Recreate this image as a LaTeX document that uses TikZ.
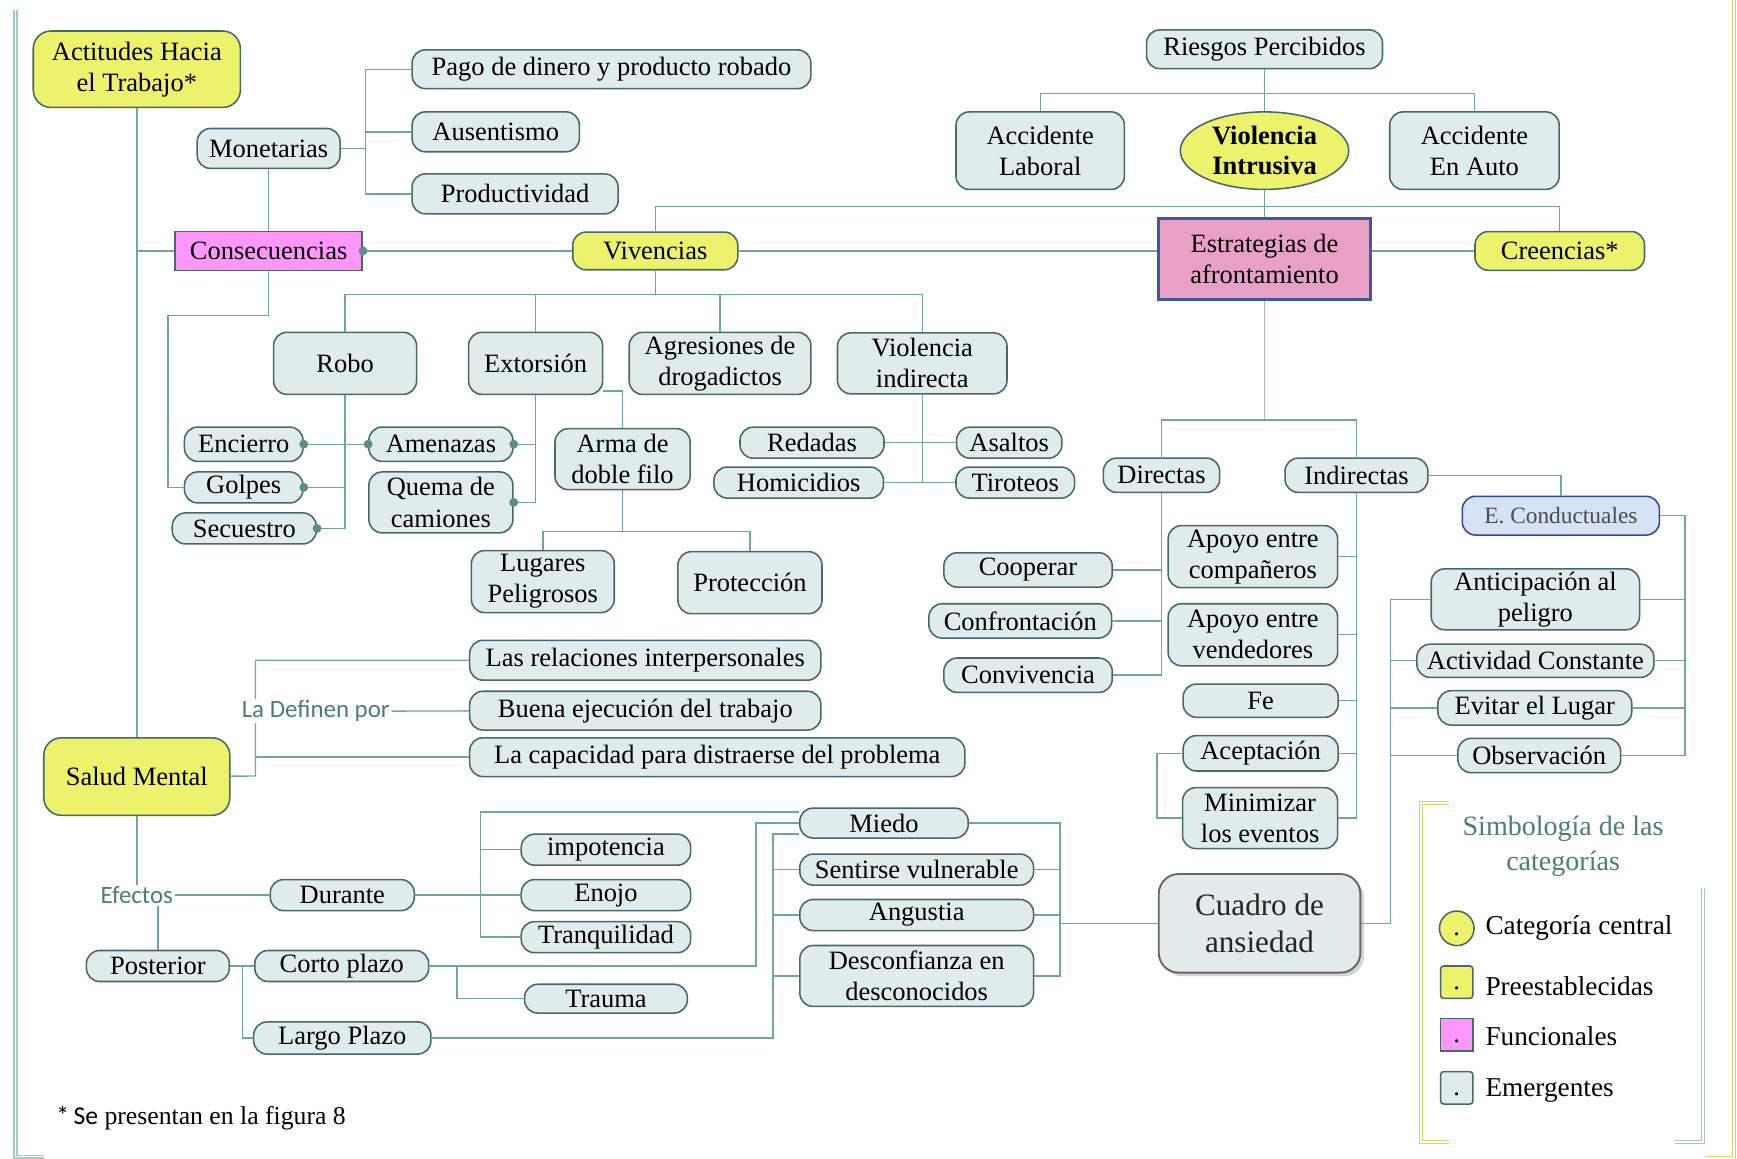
\documentclass[tikz,border=0pt]{standalone}
\usepackage{fontspec}
\setmainfont{Liberation Serif}
\newfontfamily\lblfont{Carlito}
\usetikzlibrary{shapes.geometric,shadows}
\definecolor{lnc}{RGB}{110,165,165}
\definecolor{bdc}{RGB}{70,105,105}
\definecolor{emc}{RGB}{224,235,235}
\definecolor{prc}{RGB}{236,242,108}
\definecolor{fnc}{RGB}{255,150,250}
\definecolor{esc}{RGB}{232,160,196}
\definecolor{esb}{RGB}{60,90,160}
\definecolor{ecc}{RGB}{214,226,245}
\definecolor{cuc}{RGB}{226,234,234}
\definecolor{txc}{RGB}{75,125,125}
\definecolor{gld}{RGB}{232,205,100}
\definecolor{brc}{RGB}{165,200,200}

\begin{document}
\begin{tikzpicture}[x=0.025cm,y=-0.025cm,
  font=\fontsize{17}{20}\selectfont,
  wh/.style 2 args={minimum width=#1*0.025cm,minimum height=#2*0.025cm},
  emer/.style={draw=bdc,fill=emc,line width=1pt,rounded corners=0.3cm,align=center,inner sep=1pt},
  pre/.style={emer,fill=prc},
  func/.style={draw=bdc,fill=fnc,line width=1pt,align=center,inner sep=1pt},
  lnk/.style={draw=lnc,line width=0.9pt},
  dot/.style={circle,fill=lnc!85!black,inner sep=0pt,minimum size=0.2cm},
  lbl/.style={font=\lblfont\fontsize{16}{19}\selectfont,text=txc,fill=white,inner sep=1pt},
  frame/.style={double,double distance=1.2pt,line width=0.7pt},
  swatch/.style={draw=bdc,line width=1pt,inner sep=0pt,minimum size=0.73cm},
  legtxt/.style={anchor=west,font=\fontsize{17.5}{21}\selectfont}
]
\useasboundingbox (0,0) rectangle (1568,1046);
\draw[frame,draw=brc] (14,9) -- (14,1044) -- (40,1044);
\draw[frame,draw=gld] (1565,-2) -- (1565,1045) -- (1539,1045);
\draw[frame,draw=gld] (1308,725) -- (1283,725) -- (1283,1031) -- (1308,1031);
\draw[frame,draw=brc] (1537,802) -- (1537,1031) -- (1512,1031);

\node[pre,wh={187}{69},rounded corners=0.4cm] (act) at (123.5,62.5) {Actitudes Hacia\\el Trabajo*};
\node[emer,wh={129}{36}] (mon) at (242.5,134) {Monetarias};
\node[emer,wh={360}{35}] (pago) at (552,62.5) {Pago de dinero y producto robado};
\node[emer,wh={151}{36}] (aus) at (447.5,119) {Ausentismo};
\node[emer,wh={186}{36}] (prod) at (465,175) {Productividad};
\node[func,wh={169}{35}] (cons) at (242.5,226.5) {Consecuencias};
\node[pre,wh={149}{34}] (viv) at (591.5,226.5) {Vivencias};
\node[emer,wh={213}{35}] (ries) at (1141.5,44.5) {Riesgos Percibidos};
\node[emer,wh={152}{70}] (accl) at (939,136) {Accidente\\Laboral};
\node[ellipse,draw=bdc,fill=prc,line width=1pt,wh={152}{70},inner sep=0pt,align=center,font=\fontsize{17}{19}\selectfont\bfseries] (vi) at (1141.5,136) {Violencia\\Intrusiva};
\node[emer,wh={153}{70}] (acca) at (1331,136) {Accidente\\En Auto};
\node[func,fill=esc,draw=esb,line width=1.8pt,wh={191}{73}] (est) at (1141.5,234) {Estrategias de\\afrontamiento};
\node[pre,wh={153}{35}] (cre) at (1408,226.5) {Creencias*};

\node[emer,wh={129}{56}] (robo) at (311.5,328) {Robo};
\node[emer,wh={121}{56}] (ext) at (483.5,328) {Extorsión};
\node[emer,wh={164}{56}] (agr) at (650,328) {Agresiones de\\drogadictos};
\node[emer,wh={153}{55}] (vind) at (832.5,328) {Violencia\\indirecta};
\node[emer,wh={107}{31}] (enc) at (220,401) {Encierro};
\node[emer,wh={107}{28}] (gol) at (220,440) {Golpes};
\node[emer,wh={130}{28}] (sec) at (220.5,477) {Secuestro};
\node[emer,wh={130}{31}] (ame) at (398,401) {Amenazas};
\node[emer,wh={130}{55}] (que) at (398,453.5) {Quema de\\camiones};
\node[emer,wh={122}{55}] (arma) at (562,414.5) {Arma de\\doble filo};
\node[emer,wh={129}{56}] (lug) at (490,525) {Lugares\\Peligrosos};
\node[emer,wh={130}{56}] (prot) at (677,526) {Protección};
\node[emer,wh={130}{28}] (red) at (733,399.6) {Redadas};
\node[emer,wh={153}{28}] (hom) at (721,435.6) {Homicidios};
\node[emer,wh={95}{28}] (asa) at (911,399.6) {Asaltos};
\node[emer,wh={107}{28}] (tir) at (916.5,435.6) {Tiroteos};

\node[emer,wh={105}{31}] (dir) at (1048.5,429) {Directas};
\node[emer,wh={129}{31}] (ind) at (1224.5,429) {Indirectas};
\node[emer,fill=ecc,draw=bdc!70!blue,text=black!70,font=\fontsize{15}{18}\selectfont,wh={178}{35}] (econ) at (1409,465.5) {E. Conductuales};
\node[emer,wh={152}{31}] (coop) at (928,514.5) {Cooperar};
\node[emer,wh={165}{31}] (conf) at (921,560.5) {Confrontación};
\node[emer,wh={152}{31}] (conv) at (928,609.5) {Convivencia};
\node[emer,wh={153}{56}] (apc) at (1131,502.5) {Apoyo entre\\compañeros};
\node[emer,wh={153}{56}] (apv) at (1131,573) {Apoyo entre\\vendedores};
\node[emer,wh={140}{30}] (fe) at (1138,632.5) {Fe};
\node[emer,wh={140}{32}] (acep) at (1138,680) {Aceptación};
\node[emer,wh={140}{55}] (mini) at (1137.5,738.5) {Minimizar\\los eventos};
\node[emer,wh={188}{55}] (anti) at (1386,541) {Anticipación al\\peligro};
\node[emer,wh={214}{30}] (acti) at (1386,596.5) {Actividad Constante};
\node[emer,wh={175}{31}] (evi) at (1385.5,639) {Evitar el Lugar};
\node[emer,wh={147}{31}] (obs) at (1389.5,682) {Observación};
\node[emer,draw=gray!80!black,fill=cuc,line width=1.2pt,rounded corners=0.45cm,wh={182}{89},drop shadow={opacity=0.35},text=black!85,font=\fontsize{20}{24}\selectfont] (cua) at (1137,833.5) {Cuadro de\\ansiedad};

\node[emer,wh={317}{36}] (rel) at (582.5,596) {Las relaciones interpersonales};
\node[emer,wh={317}{35}] (bue) at (582.5,641.5) {Buena ejecución del trabajo};
\node[emer,wh={447}{35}] (cap) at (647.5,683.5) {La capacidad para distraerse del problema};
\node[pre,wh={168}{70},rounded corners=0.4cm] (sal) at (123.5,701) {Salud Mental};
\node[emer,wh={130}{28}] (dur) at (309,808) {Durante};
\node[emer,wh={153}{28}] (imp) at (547,767) {impotencia};
\node[emer,wh={153}{28}] (eno) at (547,808) {Enojo};
\node[emer,wh={153}{28}] (tra) at (547,846) {Tranquilidad};
\node[emer,wh={129}{28}] (pos) at (142.5,872) {Posterior};
\node[emer,wh={157}{28}] (cor) at (308.5,872) {Corto plazo};
\node[emer,wh={160}{29}] (lar) at (309,937) {Largo Plazo};
\node[emer,wh={147}{26}] (trm) at (547,901.5) {Trauma};
\node[emer,wh={152}{27}] (mie) at (798,743) {Miedo};
\node[emer,wh={211}{28}] (sen) at (827.5,785) {Sentirse vulnerable};
\node[emer,wh={211}{28}] (ang) at (827.5,826) {Angustia};
\node[emer,wh={211}{55}] (des) at (827.5,881) {Desconfianza en\\desconocidos};

\draw[lnk] (act) -- (sal);
\draw[lnk] (cons) -- (cons -| act);
\draw[lnk] (mon) -- (cons);
\coordinate (jm) at (330,134);
\draw[lnk] (mon) -- (jm) |- (pago);
\draw[lnk] (jm) |- (aus);
\draw[lnk] (jm) |- (prod);
\draw[lnk] (cons) -- (viv);
\coordinate (jc) at (151.5,285);
\draw[lnk] (cons) |- (jc) |- (gol);
\coordinate (jt) at (1408,186.6);
\draw[lnk] (viv) |- (jt) -- (cre);
\draw[lnk] (viv) -- (viv -| est.west);
\draw[lnk] (cre) -- (cre -| est.east);
\draw[lnk] (ries) -- (vi);
\draw[lnk] (vi) -- (est);
\coordinate (jr) at (1141.5,84.6);
\draw[lnk] (accl) |- (jr) -| (acca);

\coordinate (jv) at (591.5,266);
\draw[lnk] (viv) -- (jv);
\draw[lnk] (robo) |- (jv) -| (vind);
\draw[lnk] (ext) -- (ext |- jv);
\draw[lnk] (agr) -- (agr |- jv);
\draw[lnk] (robo) -- (robo |- sec) -- (sec);
\draw[lnk] (enc) -- (ame);
\draw[lnk] (gol) -- (robo |- gol);
\draw[lnk] (ext) -- (ext |- que) -- (que);
\draw[lnk] (ame) -- (ext |- ame);
\draw[lnk] ([yshift=0.09cm]ext.south east) -| (arma);
\coordinate (ja) at (562,480);
\draw[lnk] (arma) -- (ja);
\draw[lnk] (lug) |- (ja) -| (prot);
\draw[lnk] (vind) -- (vind |- hom);
\draw[lnk] (red) -- (asa);
\draw[lnk] (hom) -- (tir);
\foreach \p in {cons.east,enc.east,gol.east,sec.east,ame.west,ame.east,que.east}
  \node[dot] at (\p) {};

\coordinate (je) at (1141.5,379);
\draw[lnk,draw=esb!45] (est) -- (je);
\draw[lnk] (dir) |- (je) -| (ind);
\draw[lnk] (dir) -- (dir |- conv) -- (conv);
\draw[lnk] (coop) -- (dir |- coop);
\draw[lnk] (conf) -- (dir |- conf);
\draw[lnk] (ind) -- (ind |- mini) -- (mini);
\foreach \n in {apc,apv,fe,acep}
  \draw[lnk] (\n) -- (ind |- \n);
\draw[lnk] (acep.west) -- ++(-23,0) |- (mini.west);
\draw[lnk] (ind) -| (econ);
\coordinate (jk) at (1521,682);
\draw[lnk] (econ) -| (jk) -- (obs);
\foreach \n in {anti,acti,evi}
  \draw[lnk] (\n) -- (jk |- \n);
\coordinate (jq) at (1255,833.5);
\draw[lnk] (cua) -- (jq) |- (anti);
\foreach \n in {acti,evi,obs}
  \draw[lnk] (\n) -- (jq |- \n);

\coordinate (js) at (230.6,700.5);
\draw[lnk] (sal) -- (js) |- (rel);
\draw[lnk] (cap) -- (js |- cap);
\node[lbl] (defl) at (285,642) {La Definen por};
\draw[lnk] (defl) -- (bue);
\node[lbl] (efl) at (123.5,808) {Efectos};
\draw[lnk] (sal) -- (efl);
\draw[lnk] (efl) -- (dur);
\draw[lnk] (efl.south -| pos) -- (pos);
\coordinate (jd) at (433.6,808);
\draw[lnk] (dur) -- (jd);
\draw[lnk] (jd) |- ([yshift=0.25cm]mie.west);
\draw[lnk] (jd) |- (tra);
\draw[lnk] (imp) -- (jd |- imp);
\draw[lnk] (eno) -- (jd);
\draw[lnk] (pos) -- (cor);
\coordinate (jp) at (218.7,872);
\draw[lnk] (jp) |- (lar);
\coordinate (jo) at (682.6,872);
\draw[lnk] (cor) -- (jo) |- (mie);
\coordinate (jw) at (412.6,872);
\draw[lnk] (jw) |- (trm);
\coordinate (jl) at (697.8,937);
\draw[lnk] (lar) -- (jl) |- ([yshift=-0.25cm]mie.west);
\foreach \n in {sen,ang,des}
  \draw[lnk] (\n) -- (jl |- \n);
\coordinate (jx) at (957,833.5);
\draw[lnk] (cua) -- (jx);
\draw[lnk] (mie) -| (jx);
\draw[lnk] (des) -| (jx);
\foreach \n in {sen,ang}
  \draw[lnk] (\n) -- (jx |- \n);

\node[font=\fontsize{18}{22}\selectfont,text=txc,align=center] (ltit) at (1411,764) {Simbología de las\\categorías};
\node[swatch,circle,fill=prc,minimum size=0.78cm] (lc) at (1315,838) {\raisebox{-0.35cm}{.}};
\node[swatch,fill=prc,rounded corners=2pt] (lp) at (1315,886.6) {\raisebox{-0.35cm}{.}};
\node[swatch,fill=fnc] (lf) at (1315,934) {\raisebox{-0.35cm}{.}};
\node[swatch,fill=emc,rounded corners=2pt] (le) at (1315,982) {\raisebox{-0.35cm}{.}};
\node[legtxt] (ltc) at (1336,838) {Categoría central};
\node[legtxt] (ltp) at (1336,890) {Preestablecidas};
\node[legtxt] (ltf) at (1336,935.5) {Funcionales};
\node[legtxt] (lte) at (1336,984) {Emergentes};
\node[anchor=west,font=\fontsize{16.5}{20}\selectfont] (fn) at (46,1009) {{\lblfont *\,Se} presentan en la figura 8};
\end{tikzpicture}
\end{document}
